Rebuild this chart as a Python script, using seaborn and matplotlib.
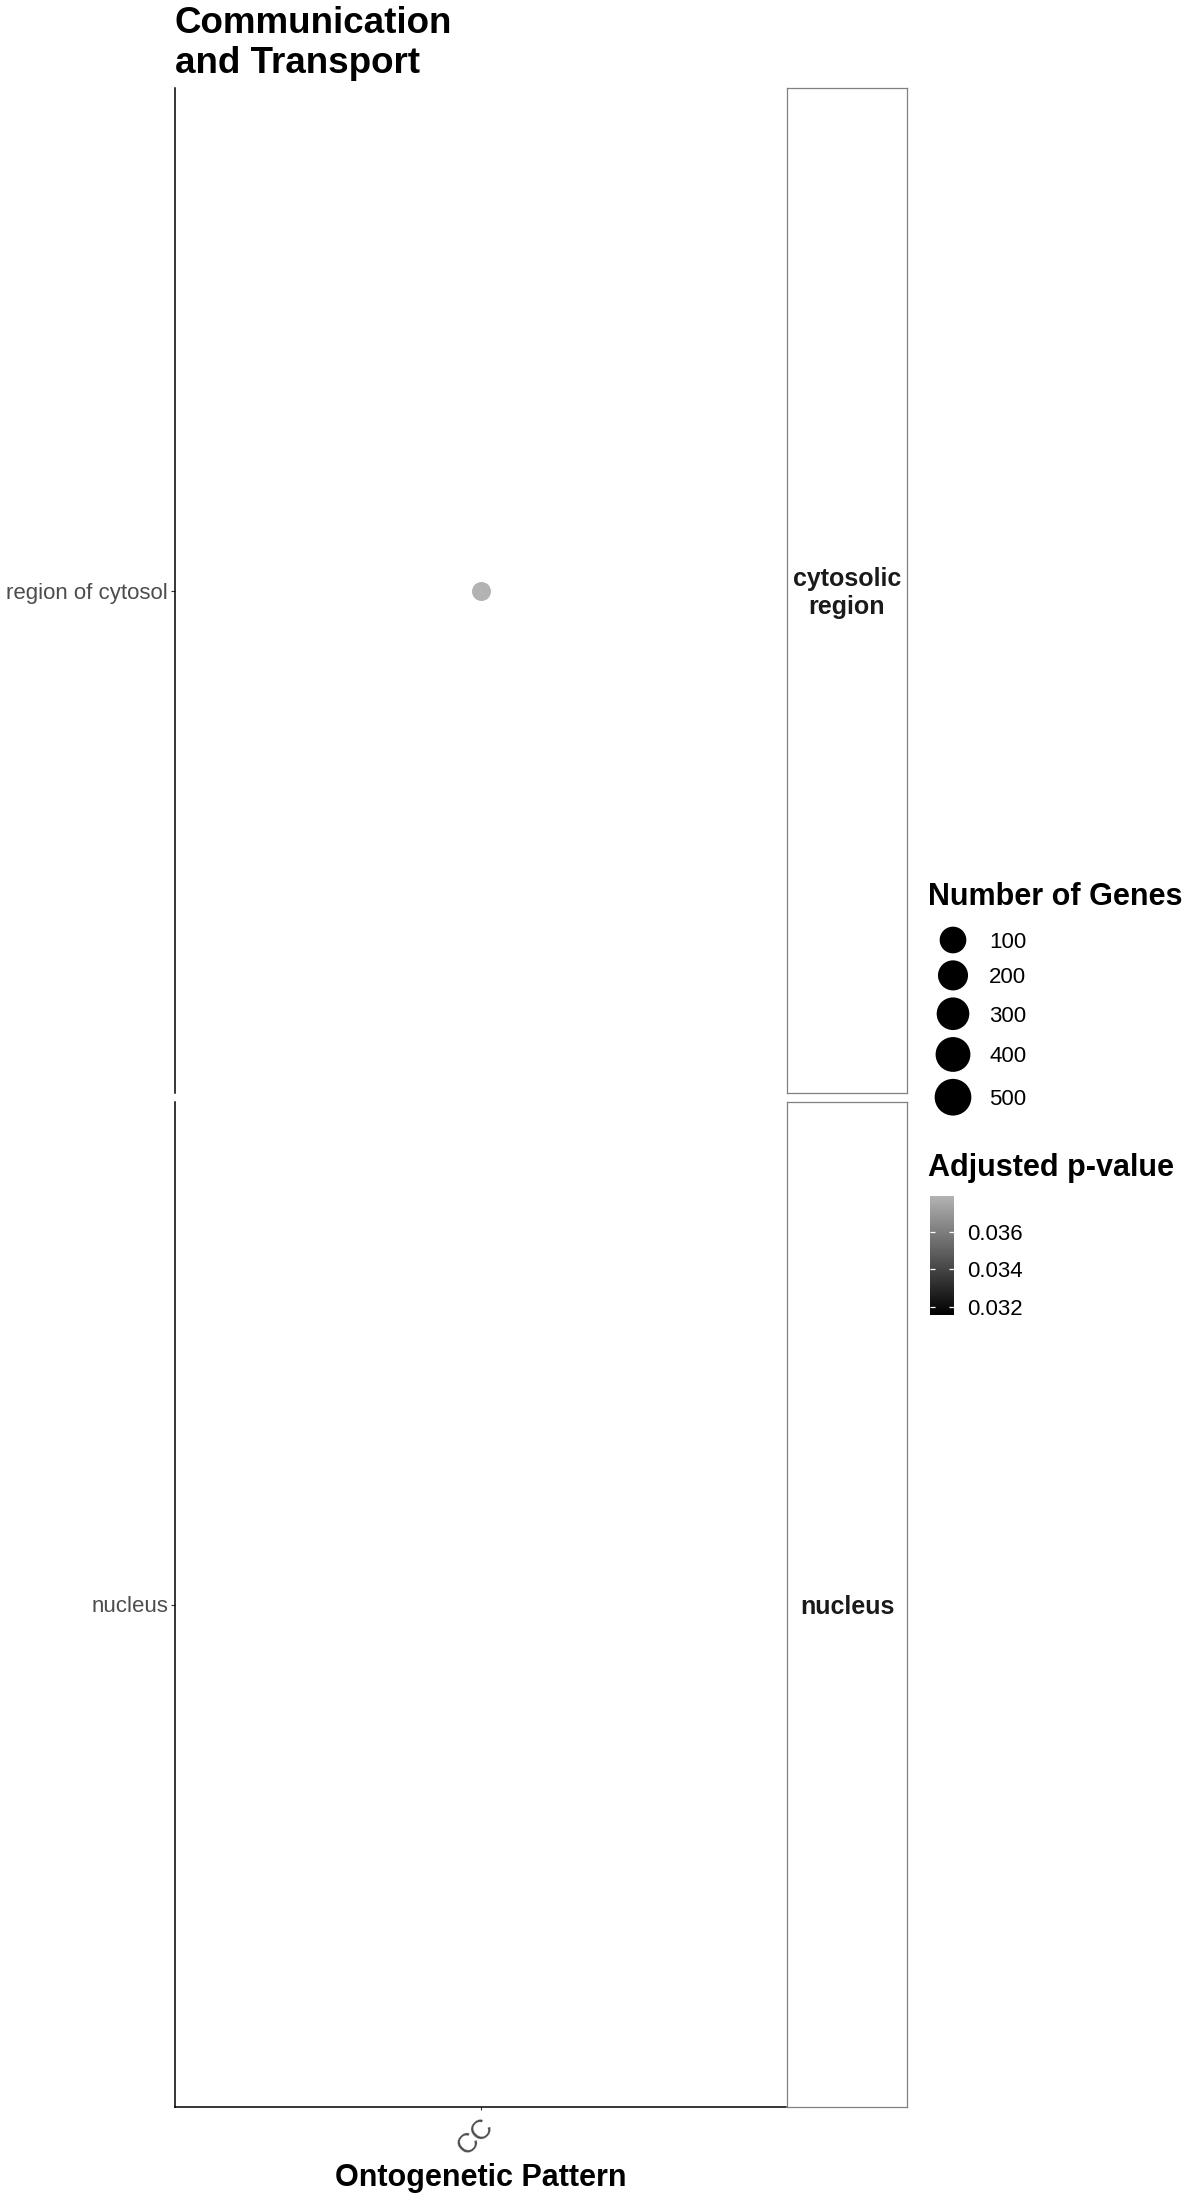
import numpy as np
import pandas as pd
import matplotlib
matplotlib.use("Agg")
import matplotlib.pyplot as plt
import seaborn as sns
from matplotlib.colors import LinearSegmentedColormap, Normalize
from matplotlib.cm import ScalarMappable

# ---------------- data ----------------
patterns = ["CC"]
terms = ["region of cytosol"]
term_facets = ["cytosolic region"]
gene_counts = [7]
adj_pvalues = [0.0379]

facet_levels = ["cytosolic region", "nucleus"]
facet_labels = ["cytosolic\nregion", "nucleus"]
facet_terms = ["region of cytosol", "nucleus"]
x_levels = ["CC"]

size_breaks = [100, 200, 300, 400, 500]
size_limits = [7, 500]
pvalue_limits = [0.03155, 0.0379]
pvalue_breaks = [0.032, 0.034, 0.036]
pvalue_labels = ["0.032", "0.034", "0.036"]

title = "Communication\nand Transport"
xlabel = "Ontogenetic Pattern"
size_title = "Number of Genes"
color_title = "Adjusted p-value"

# ---------------- style ----------------
sns.set_theme(style="ticks")
plt.rcParams['font.family'] = ['Liberation Sans', 'DejaVu Sans']

W, H = 1200, 2200
fig = plt.figure(figsize=(12, 22), dpi=100)
fig.patch.set_facecolor("white")


def rect(l, t, r, b):
    return [l / W, 1 - b / H, (r - l) / W, (b - t) / H]


DMIN, DMAX = 19.0, 36.7  # marker diameters (px) at the size limits


def diam_px(n):
    t = np.clip((np.asarray(n, float) - size_limits[0]) / (size_limits[1] - size_limits[0]), 0, 1)
    return DMIN + (DMAX - DMIN) * np.sqrt(t)


def area_pt2(n):
    return float((diam_px(n) * 72 / 100) ** 2)


cmap = LinearSegmentedColormap.from_list("greys", ["#000000", "#B3B3B3"])
norm = Normalize(*pvalue_limits)

df = pd.DataFrame({
    "pattern": patterns,
    "term": terms,
    "facet": term_facets,
    "genes": gene_counts,
    "padj": adj_pvalues,
})

panel_rows = [(88, 1093), (1102, 2107)]
AX_L, AX_R = 175, 786
ST_L, ST_R = 787, 907

for i, (facet, flab, fterm) in enumerate(zip(facet_levels, facet_labels, facet_terms)):
    top, bot = panel_rows[i]
    ax = fig.add_axes(rect(AX_L, top, AX_R, bot))
    ax.set_facecolor("white")
    sub = df[df["facet"] == facet]
    if len(sub):
        sns.scatterplot(
            data=sub, x="pattern", y="term",
            hue="padj", palette=cmap, hue_norm=norm,
            size="genes", sizes={n: area_pt2(n) for n in sub["genes"].unique()},
            legend=False, linewidth=0, ax=ax,
        )
    ax.set_xlim(-0.6, 0.6)
    ax.set_ylim(-0.6, 0.6)
    ax.set_yticks([0])
    ax.set_yticklabels([fterm])
    ax.set_xlabel("")
    ax.set_ylabel("")
    for s in ["top", "right"]:
        ax.spines[s].set_visible(False)
    ax.spines["left"].set_color("black")
    ax.spines["left"].set_linewidth(1.1)
    ax.tick_params(axis="y", left=True, length=3, width=0.8, color="#333333",
                   labelsize=16, labelcolor="#4D4D4D", pad=2)
    if i == len(facet_levels) - 1:
        ax.spines["bottom"].set_color("black")
        ax.spines["bottom"].set_linewidth(1.1)
        ax.set_xticks(range(len(x_levels)))
        ax.set_xticklabels(x_levels, rotation=45, ha="right", va="top",
                           rotation_mode="anchor")
        ax.tick_params(axis="x", bottom=True, length=2.5, width=0.8, color="#333333",
                       labelsize=20, labelcolor="#4D4D4D", pad=2)
    else:
        ax.spines["bottom"].set_visible(False)
        ax.set_xticks([])

    # facet strip
    sax = fig.add_axes(rect(ST_L, top, ST_R, bot))
    sax.set_facecolor("white")
    sax.set_xticks([])
    sax.set_yticks([])
    for s in sax.spines.values():
        s.set_visible(True)
        s.set_color("#808080")
        s.set_linewidth(0.9)
    sax.text(0.5, 0.4975, flab, transform=sax.transAxes, ha="center", va="center",
             fontsize=18, fontweight="bold", color="#1A1A1A", linespacing=1.2)

# title and axis label
fig.text(AX_L / W, 1 - 6 / H, title, ha="left", va="top", fontsize=26.5,
         fontweight="bold", color="black", linespacing=1.18)
fig.text((AX_L + AX_R) / 2 / W, 1 - 2186 / H, xlabel, ha="center", va="baseline",
         fontsize=22, fontweight="bold", color="black")

# ---------------- size legend ----------------
lax = fig.add_axes([0, 0, 1, 1])
lax.set_xlim(0, W)
lax.set_ylim(H, 0)
lax.axis("off")
lax.patch.set_visible(False)

lax.text(928, 905, size_title, ha="left", va="baseline", fontsize=22,
         fontweight="bold", color="black")
ds = [float(diam_px(b)) for b in size_breaks]
hs = [d + 7 for d in ds]
cy = 940.0
centers = []
for k in range(len(size_breaks)):
    if k > 0:
        cy += (hs[k - 1] + hs[k]) / 2
    centers.append(cy)
lax.scatter([953] * len(size_breaks), centers, s=[area_pt2(b) for b in size_breaks],
            c="black", linewidths=0)
for b, c in zip(size_breaks, centers):
    lax.text(989, c + 7.8, str(b), ha="left", va="baseline", fontsize=16, color="black")

# ---------------- colour legend ----------------
lax.text(928, 1176, color_title, ha="left", va="baseline", fontsize=22,
         fontweight="bold", color="black")
cax = fig.add_axes(rect(930, 1196, 954, 1315))
cb = fig.colorbar(ScalarMappable(norm=norm, cmap=cmap), cax=cax)
cb.outline.set_visible(False)
cb.set_ticks(pvalue_breaks)
cb.set_ticklabels(pvalue_labels)
cax.tick_params(length=0, labelsize=16, labelcolor="black", pad=9.5)
for t in pvalue_breaks:
    cax.hlines(t, 0, 0.2, colors="white", linewidth=0.9)
    cax.hlines(t, 0.8, 1, colors="white", linewidth=0.9)
cax.set_xlim(0, 1)

fig.savefig("out.png", dpi=100, facecolor="white")
